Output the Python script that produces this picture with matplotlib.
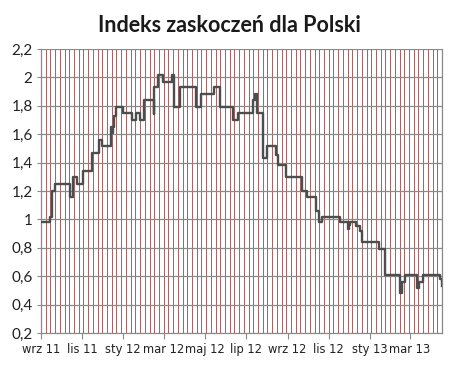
import numpy as np
import pandas as pd
import matplotlib
matplotlib.use("Agg")
import matplotlib.pyplot as plt
import matplotlib.dates as mdates
from matplotlib.ticker import FixedLocator

# level changes of the index (step series)
dates = ["2011-09-01", "2011-09-14", "2011-09-18", "2011-09-22", "2011-10-14",
         "2011-10-19", "2011-10-25", "2011-11-02", "2011-11-15", "2011-11-26",
         "2011-12-01", "2011-12-14", "2011-12-16", "2011-12-17", "2011-12-19",
         "2011-12-22", "2011-12-31", "2012-01-14", "2012-01-20", "2012-01-26",
         "2012-02-01", "2012-02-15", "2012-02-16", "2012-02-22", "2012-02-29",
         "2012-03-13", "2012-03-17", "2012-03-25", "2012-04-18", "2012-04-25",
         "2012-05-14", "2012-05-24", "2012-06-12", "2012-06-20", "2012-07-12",
         "2012-07-15", "2012-07-18", "2012-07-26", "2012-08-01", "2012-08-14",
         "2012-08-18", "2012-08-29", "2012-09-23", "2012-09-30", "2012-10-13",
         "2012-10-17", "2012-10-22", "2012-11-18", "2012-11-29", "2012-12-01",
         "2012-12-02", "2012-12-11", "2012-12-18", "2012-12-21", "2013-01-14",
         "2013-01-23", "2013-02-14", "2013-02-18", "2013-02-22", "2013-03-12",
         "2013-03-15", "2013-03-21", "2013-04-15", "2013-04-18"]
values = [0.98, 1.02, 1.20, 1.25, 1.16,
          1.30, 1.25, 1.34, 1.47, 1.56,
          1.52, 1.65, 1.61, 1.65, 1.73,
          1.79, 1.75, 1.70, 1.75, 1.70,
          1.84, 1.74, 1.93, 2.02, 1.97,
          2.02, 1.79, 1.93, 1.79, 1.88,
          1.93, 1.79, 1.70, 1.75, 1.84,
          1.88, 1.75, 1.43, 1.52, 1.45,
          1.38, 1.30, 1.20, 1.16, 1.06,
          0.98, 1.02, 0.98, 0.93, 0.96,
          0.98, 0.95, 0.92, 0.84, 0.79,
          0.61, 0.48, 0.56, 0.61, 0.52,
          0.56, 0.61, 0.58, 0.53]

month_ticks = ["2011-09-01", "2011-11-01", "2012-01-01", "2012-03-01", "2012-05-01",
               "2012-07-01", "2012-09-01", "2012-11-01", "2013-01-01", "2013-03-01"]
month_labels = ["wrz 11", "lis 11", "sty 12", "mar 12", "maj 12",
                "lip 12", "wrz 12", "lis 12", "sty 13", "mar 13"]
y_ticks = [0.2, 0.4, 0.6, 0.8, 1.0, 1.2, 1.4, 1.6, 1.8, 2.0, 2.2]

x = pd.to_datetime(dates)
start, end = x[0], x[-1]

fig = plt.figure(figsize=(4.68, 3.8), dpi=100)
ax = fig.add_axes([41 / 468, 1 - 333 / 380, 401 / 468, 284 / 380])

# weekly vertical grid
weeks = pd.date_range(start, end, freq="7D")
for w in weeks[1:]:
    ax.axvline(w, color="#a06868", lw=0.75, zorder=1)
for v in y_ticks[1:]:
    ax.axhline(v, color="#8a8a8a", lw=0.9, zorder=1)

ax.plot(x, values, drawstyle="steps-post", color="#4d4d4d", lw=1.7, zorder=3)

ax.set_xlim(start, end)
ax.set_ylim(0.2, 2.2)

ax.set_yticks(y_ticks)
ax.set_yticklabels([("%g" % v).replace(".", ",") for v in y_ticks],
                   fontfamily="Lato", fontsize=11, color="#222222")
ax.xaxis.set_major_locator(FixedLocator(mdates.date2num(pd.to_datetime(month_ticks))))
ax.set_xticklabels(month_labels, fontfamily="DejaVu Sans", fontsize=8.3, color="#222222")

ax.tick_params(axis="y", length=3, color="#8a8a8a", pad=3)
ax.tick_params(axis="x", length=4, color="#8a8a8a", pad=3)

ax.spines["top"].set_visible(False)
for s in ["left", "bottom", "right"]:
    ax.spines[s].set_color("#8a8a8a")
    ax.spines[s].set_linewidth(0.9)

fig.text(229 / 468, 1 - 26 / 380, "Indeks zaskoczeń dla Polski", ha="center", va="center",
         fontfamily="Lato", fontweight="bold", fontsize=15.5, color="#1a1a1a")

fig.savefig("out.png", dpi=100)
